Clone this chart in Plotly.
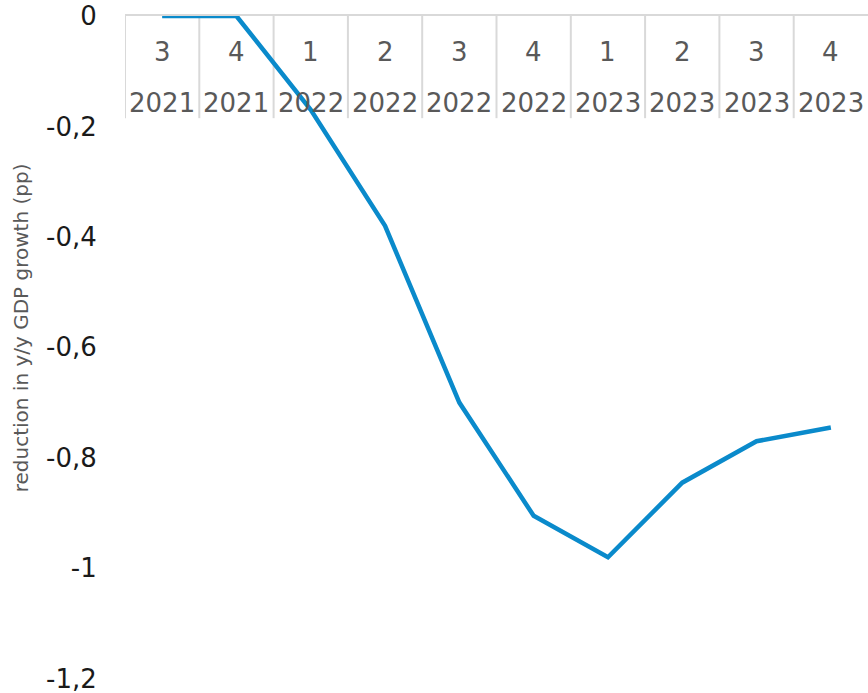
import plotly.graph_objects as go

# Quarterly GDP impact, Q3 2021 - Q4 2023
quarters = ["3", "4", "1", "2", "3", "4", "1", "2", "3", "4"]
years = ["2021", "2021", "2022", "2022", "2022", "2022", "2023", "2023", "2023", "2023"]
impact = [0.0, 0.0, -0.17, -0.38, -0.70, -0.905, -0.98, -0.845, -0.77, -0.745]

y_ticks = [0, -0.2, -0.4, -0.6, -0.8, -1.0, -1.2]
y_tick_text = ["0", "-0,2", "-0,4", "-0,6", "-0,8", "-1", "-1,2"]

categories = [f"{q}/{y}" for q, y in zip(quarters, years)]

FONT = "DejaVu Sans"
LABEL_GREY = "#595959"
GRID_GREY = "#d9d9d9"

fig = go.Figure()
fig.add_trace(go.Scatter(
    x=categories, y=impact, mode="lines",
    line=dict(color="#0a8acb", width=4.5),
    hoverinfo="skip", showlegend=False,
))

annotations = []
shapes = []
for i, (cat, q, yr) in enumerate(zip(categories, quarters, years)):
    annotations.append(dict(x=cat, xref="x", y=1, yref="paper", yanchor="middle",
                            yshift=-36, text=q, showarrow=False,
                            font=dict(family=FONT, size=26, color=LABEL_GREY)))
    annotations.append(dict(x=cat, xref="x", y=1, yref="paper", yanchor="middle",
                            yshift=-87, text=yr, showarrow=False,
                            font=dict(family=FONT, size=26, color=LABEL_GREY)))
    # separator on the left side of each category cell
    shapes.append(dict(type="line", xref="x", yref="y", x0=i - 0.5, x1=i - 0.5,
                       y0=0, y1=-0.185, line=dict(color=GRID_GREY, width=2),
                       layer="below"))

annotations.append(dict(x=0, xref="paper", xanchor="center", xshift=-104,
                        y=0.529, yref="paper", yanchor="middle",
                        text="reduction in y/y GDP growth (pp)", textangle=-90,
                        showarrow=False,
                        font=dict(family=FONT, size=20, color=LABEL_GREY)))

fig.update_layout(
    width=868, height=693,
    margin=dict(l=125, r=0, t=16, b=14),
    plot_bgcolor="white", paper_bgcolor="white",
    font=dict(family=FONT),
    xaxis=dict(type="category", categoryorder="array", categoryarray=categories,
               range=[-0.5, 9.5], side="top", showticklabels=False,
               showgrid=False, zeroline=False, showline=True,
               linecolor=GRID_GREY, linewidth=2, ticks=""),
    yaxis=dict(range=[-1.2005, 0], tickvals=y_ticks, ticktext=y_tick_text,
               showgrid=False, zeroline=False, showline=False,
               ticks="outside", ticklen=22, tickcolor="rgba(0,0,0,0)",
               ticklabeloverflow="allow",
               tickfont=dict(family=FONT, size=26, color="#1a1a1a")),
    annotations=annotations,
    shapes=shapes,
)

fig.write_html("out.html")
